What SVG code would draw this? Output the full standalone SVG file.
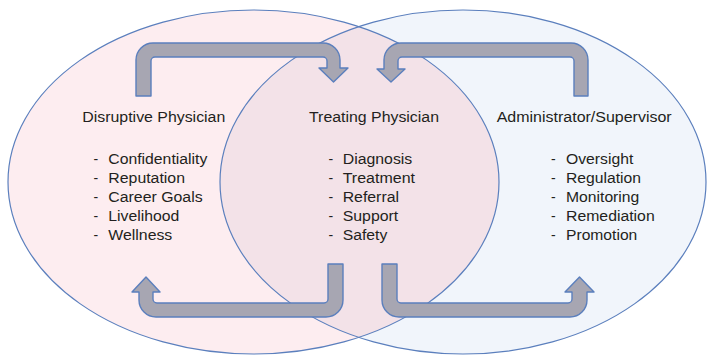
<svg xmlns="http://www.w3.org/2000/svg" width="707" height="355" viewBox="0 0 707 355">
  <defs>
    <clipPath id="clip-left">
      <ellipse cx="253.5" cy="182" rx="245.5" ry="172"/>
    </clipPath>
    <style>
      .ring { stroke: #5b7fbd; stroke-width: 1.2; }
      .flow { fill: #a7a6b2; stroke: #5b7fbd; stroke-width: 1.4; stroke-linejoin: round; }
      text { font-family: "Liberation Sans", Arial, sans-serif; font-size: 14px; fill: #231f20; }
    </style>
  </defs>

  <rect width="707" height="355" fill="#ffffff"/>

  <!-- circles of the Venn layout -->
  <g id="areas">
    <ellipse cx="253.5" cy="182" rx="245.5" ry="172" fill="#fdedf0"/>
    <ellipse cx="463" cy="182" rx="243" ry="172" fill="#f1f5fb"/>
    <ellipse cx="463" cy="182" rx="243" ry="172" fill="#f3e2e8" clip-path="url(#clip-left)"/>
    <ellipse class="ring" cx="253.5" cy="182" rx="245.5" ry="172" fill="none"/>
    <ellipse class="ring" cx="463" cy="182" rx="243" ry="172" fill="none"/>
  </g>

  <g id="disruptive-physician">
    <text x="82.3" y="121.7" textLength="143" lengthAdjust="spacingAndGlyphs">Disruptive Physician</text>
    <text x="93.5" y="164.3">-</text>
    <text x="108.3" y="164.3" textLength="99" lengthAdjust="spacingAndGlyphs">Confidentiality</text>
    <text x="93.5" y="183.3">-</text>
    <text x="108.3" y="183.3" textLength="76.7" lengthAdjust="spacingAndGlyphs">Reputation</text>
    <text x="93.5" y="202.3">-</text>
    <text x="108.3" y="202.3" textLength="94.3" lengthAdjust="spacingAndGlyphs">Career Goals</text>
    <text x="93.5" y="221.3">-</text>
    <text x="108.3" y="221.3" textLength="71" lengthAdjust="spacingAndGlyphs">Livelihood</text>
    <text x="93.5" y="240.3">-</text>
    <text x="108.3" y="240.3" textLength="64" lengthAdjust="spacingAndGlyphs">Wellness</text>
  </g>

  <g id="treating-physician">
    <text x="309" y="121.7" textLength="130" lengthAdjust="spacingAndGlyphs">Treating Physician</text>
    <text x="328.5" y="164.3">-</text>
    <text x="342.7" y="164.3" textLength="69.6" lengthAdjust="spacingAndGlyphs">Diagnosis</text>
    <text x="328.5" y="183.3">-</text>
    <text x="342.7" y="183.3" textLength="72.3" lengthAdjust="spacingAndGlyphs">Treatment</text>
    <text x="328.5" y="202.3">-</text>
    <text x="342.7" y="202.3" textLength="56.3" lengthAdjust="spacingAndGlyphs">Referral</text>
    <text x="328.5" y="221.3">-</text>
    <text x="342.7" y="221.3" textLength="55.6" lengthAdjust="spacingAndGlyphs">Support</text>
    <text x="328.5" y="240.3">-</text>
    <text x="342.7" y="240.3" textLength="44.6" lengthAdjust="spacingAndGlyphs">Safety</text>
  </g>

  <g id="administrator-supervisor">
    <text x="496.7" y="121.7" textLength="175" lengthAdjust="spacingAndGlyphs">Administrator/Supervisor</text>
    <text x="551" y="164.3">-</text>
    <text x="566" y="164.3" textLength="67.3" lengthAdjust="spacingAndGlyphs">Oversight</text>
    <text x="551" y="183.3">-</text>
    <text x="566" y="183.3" textLength="75" lengthAdjust="spacingAndGlyphs">Regulation</text>
    <text x="551" y="202.3">-</text>
    <text x="566" y="202.3" textLength="73.3" lengthAdjust="spacingAndGlyphs">Monitoring</text>
    <text x="551" y="221.3">-</text>
    <text x="566" y="221.3" textLength="88.7" lengthAdjust="spacingAndGlyphs">Remediation</text>
    <text x="551" y="240.3">-</text>
    <text x="566" y="240.3" textLength="71.3" lengthAdjust="spacingAndGlyphs">Promotion</text>
  </g>

  <!-- bent block arrows between the roles -->
  <g id="connectors">
    <path class="flow" d="M136,96 V60 A17,17 0 0 1 153,43 H323 A17,17 0 0 1 340,60 V68 H348 L333.5,82 L319,68 H327 V61 A4,4 0 0 0 323,57 H155 A4,4 0 0 0 151,61 V96 Z"/>
    <path class="flow" d="M588,96 V60 A17,17 0 0 0 571,43 H401 A17,17 0 0 0 384,60 V69 H377 L391,82 L405,69 H398 V61 A4,4 0 0 1 402,57 H570 A4,4 0 0 1 574,61 V96 Z"/>
    <path class="flow" d="M328,264 H343 V300 A17,17 0 0 1 326,317 H156 A17,17 0 0 1 139,300 V292 H132 L146,277 L160,292 H153 V299 A4,4 0 0 0 157,303 H324 A4,4 0 0 0 328,299 Z"/>
    <path class="flow" d="M382,264 H397 V299 A4,4 0 0 0 401,303 H568 A4,4 0 0 0 572,299 V292 H565 L579.5,277 L594,292 H587 V300 A17,17 0 0 1 570,317 H399 A17,17 0 0 1 382,300 Z"/>
  </g>
</svg>
